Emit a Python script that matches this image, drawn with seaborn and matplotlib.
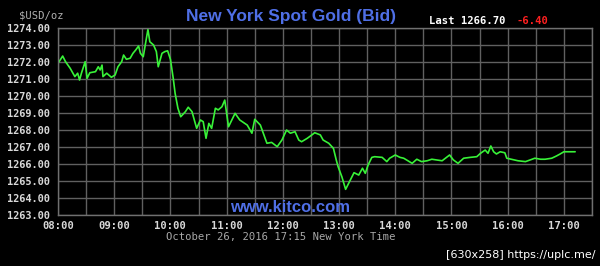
import matplotlib
matplotlib.use("Agg")
import matplotlib.pyplot as plt
import seaborn as sns
import pandas as pd

# minutes after 08:00 (New York time)
minutes = [0, 5, 8, 13, 18, 21, 23, 25, 29, 31, 34, 40, 43, 45, 47, 48, 52, 57, 61, 64,
           68, 70, 73, 77, 80, 83, 86, 88, 91, 96, 98, 102, 105, 107, 111, 114, 117, 120,
           123, 125, 128, 131, 136, 139, 143, 148, 152, 155, 158, 161, 164, 168, 171, 175,
           178, 182, 189, 194, 202, 207, 210, 216, 223, 228, 234, 239, 244, 248, 253, 257,
           260, 266, 271, 274, 280, 283, 289, 294, 297, 299, 303, 307, 312, 316, 321, 325,
           328, 331, 335, 338, 346, 351, 354, 360, 365, 369, 372, 378, 383, 388, 394, 399,
           404, 410, 418, 422, 427, 433, 440, 447, 451, 456, 459, 462, 465, 468, 472, 477,
           479, 484, 491, 499, 504, 509, 515, 520, 527, 532, 536, 540, 552]
bid = [1271.92, 1272.35, 1272.02, 1271.63, 1271.14, 1271.34, 1270.94, 1271.34, 1272.02, 1271.04,
       1271.37, 1271.43, 1271.72, 1271.53, 1271.82, 1271.14, 1271.34, 1271.10, 1271.24, 1271.72,
       1272.02, 1272.41, 1272.16, 1272.22, 1272.51, 1272.71, 1272.94, 1272.51, 1272.31, 1273.92,
       1273.19, 1273.00, 1272.61, 1271.72, 1272.51, 1272.61, 1272.66, 1272.16, 1271.04, 1270.16,
       1269.28, 1268.78, 1269.08, 1269.34, 1269.08, 1268.10, 1268.59, 1268.49, 1267.51, 1268.39,
       1268.10, 1269.28, 1269.18, 1269.37, 1269.76, 1268.19, 1268.98, 1268.59, 1268.29, 1267.81,
       1268.63, 1268.29, 1267.22, 1267.27, 1267.02, 1267.41, 1268.00, 1267.81, 1267.90, 1267.41,
       1267.31, 1267.51, 1267.71, 1267.84, 1267.71, 1267.41, 1267.22, 1266.92, 1266.24, 1265.84,
       1265.25, 1264.51, 1265.06, 1265.49, 1265.35, 1265.75, 1265.45, 1265.94, 1266.39, 1266.43,
       1266.39, 1266.14, 1266.34, 1266.53, 1266.39, 1266.34, 1266.24, 1266.04, 1266.28, 1266.14,
       1266.19, 1266.28, 1266.24, 1266.19, 1266.53, 1266.24, 1266.04, 1266.34, 1266.39, 1266.43,
       1266.63, 1266.82, 1266.63, 1267.06, 1266.72, 1266.59, 1266.72, 1266.66, 1266.34, 1266.28,
       1266.19, 1266.14, 1266.24, 1266.34, 1266.28, 1266.28, 1266.34, 1266.47, 1266.59, 1266.72,
       1266.72]

hour_labels = ["08:00", "09:00", "10:00", "11:00", "12:00", "13:00", "14:00", "15:00", "16:00", "17:00"]
price_ticks = [1263, 1264, 1265, 1266, 1267, 1268, 1269, 1270, 1271, 1272, 1273, 1274]

title = "New York Spot Gold (Bid)"
last_label = "Last 1266.70"
change_label = "-6.40"
unit_label = "$USD/oz"
date_label = "October 26, 2016 17:15 New York Time"
site_label = "www.kitco.com"
stamp_label = "[630x258] https://uplc.me/"

sns.set_style("dark")
plt.rcParams["font.family"] = ["DejaVu Sans"]

df = pd.DataFrame({"minute": minutes, "bid": bid})

fig = plt.figure(figsize=(6.0, 2.66), dpi=100, facecolor="black")
ax = fig.add_axes([58 / 600, 1 - 215 / 266, 534 / 600, 187 / 266])
ax.set_facecolor("black")

sns.lineplot(data=df, x="minute", y="bid", ax=ax, color="#38f238", linewidth=1.2)

ax.set_xlim(0, 570)
ax.set_ylim(1263, 1274)
ax.set_xticks([i * 60 for i in range(len(hour_labels))])
ax.set_xticklabels(hour_labels)
ax.set_xticks(range(30, 571, 60), minor=True)
ax.set_yticks(price_ticks)
ax.set_yticklabels([f"{p:.2f}" for p in price_ticks])

grid_col = "#606060"
ax.grid(True, which="both", color=grid_col, linewidth=1.0)
ax.set_axisbelow(True)
for s in ax.spines.values():
    s.set_visible(True)
    s.set_color("#707070")
    s.set_linewidth(1.0)

mono = "DejaVu Sans Mono"
ax.tick_params(axis="both", which="both", length=0, colors="#d8d8d8")
for lab in ax.get_yticklabels():
    lab.set_fontfamily(mono)
    lab.set_fontweight("bold")
    lab.set_fontsize(7.4)
for lab in ax.get_xticklabels():
    lab.set_fontfamily(mono)
    lab.set_fontweight("bold")
    lab.set_fontsize(7.6)
ax.tick_params(axis="y", pad=6)
ax.tick_params(axis="x", pad=4)
ax.set_xlabel("")
ax.set_ylabel("")

def fx(px):
    return px / 600

def fy(py):
    return 1 - py / 266

fig.text(fx(291), fy(17), title, color="#4f6fe6", fontsize=12.5, fontweight="bold",
         fontfamily="Liberation Sans", ha="center", va="center")
fig.text(fx(429), fy(21), last_label, color="white", fontsize=7.6, fontweight="bold",
         fontfamily=mono, ha="left", va="center")
fig.text(fx(517), fy(21), change_label, color="#ff2020", fontsize=7.6, fontweight="bold",
         fontfamily=mono, ha="left", va="center")
fig.text(fx(19), fy(15), unit_label, color="#b0b0b0", fontsize=7.6,
         fontfamily=mono, ha="left", va="center")
fig.text(fx(281), fy(237), date_label, color="#a8a8a8", fontsize=7.6,
         fontfamily=mono, ha="center", va="center")
fig.text(fx(290), fy(207), site_label, color="#4f6fe6", fontsize=12, fontweight="bold",
         fontfamily="Liberation Sans", ha="center", va="center")
fig.text(fx(595), fy(255), stamp_label, color="white", fontsize=8,
         fontfamily="DejaVu Sans", ha="right", va="center")

fig.savefig("out.png", dpi=100, facecolor="black")
